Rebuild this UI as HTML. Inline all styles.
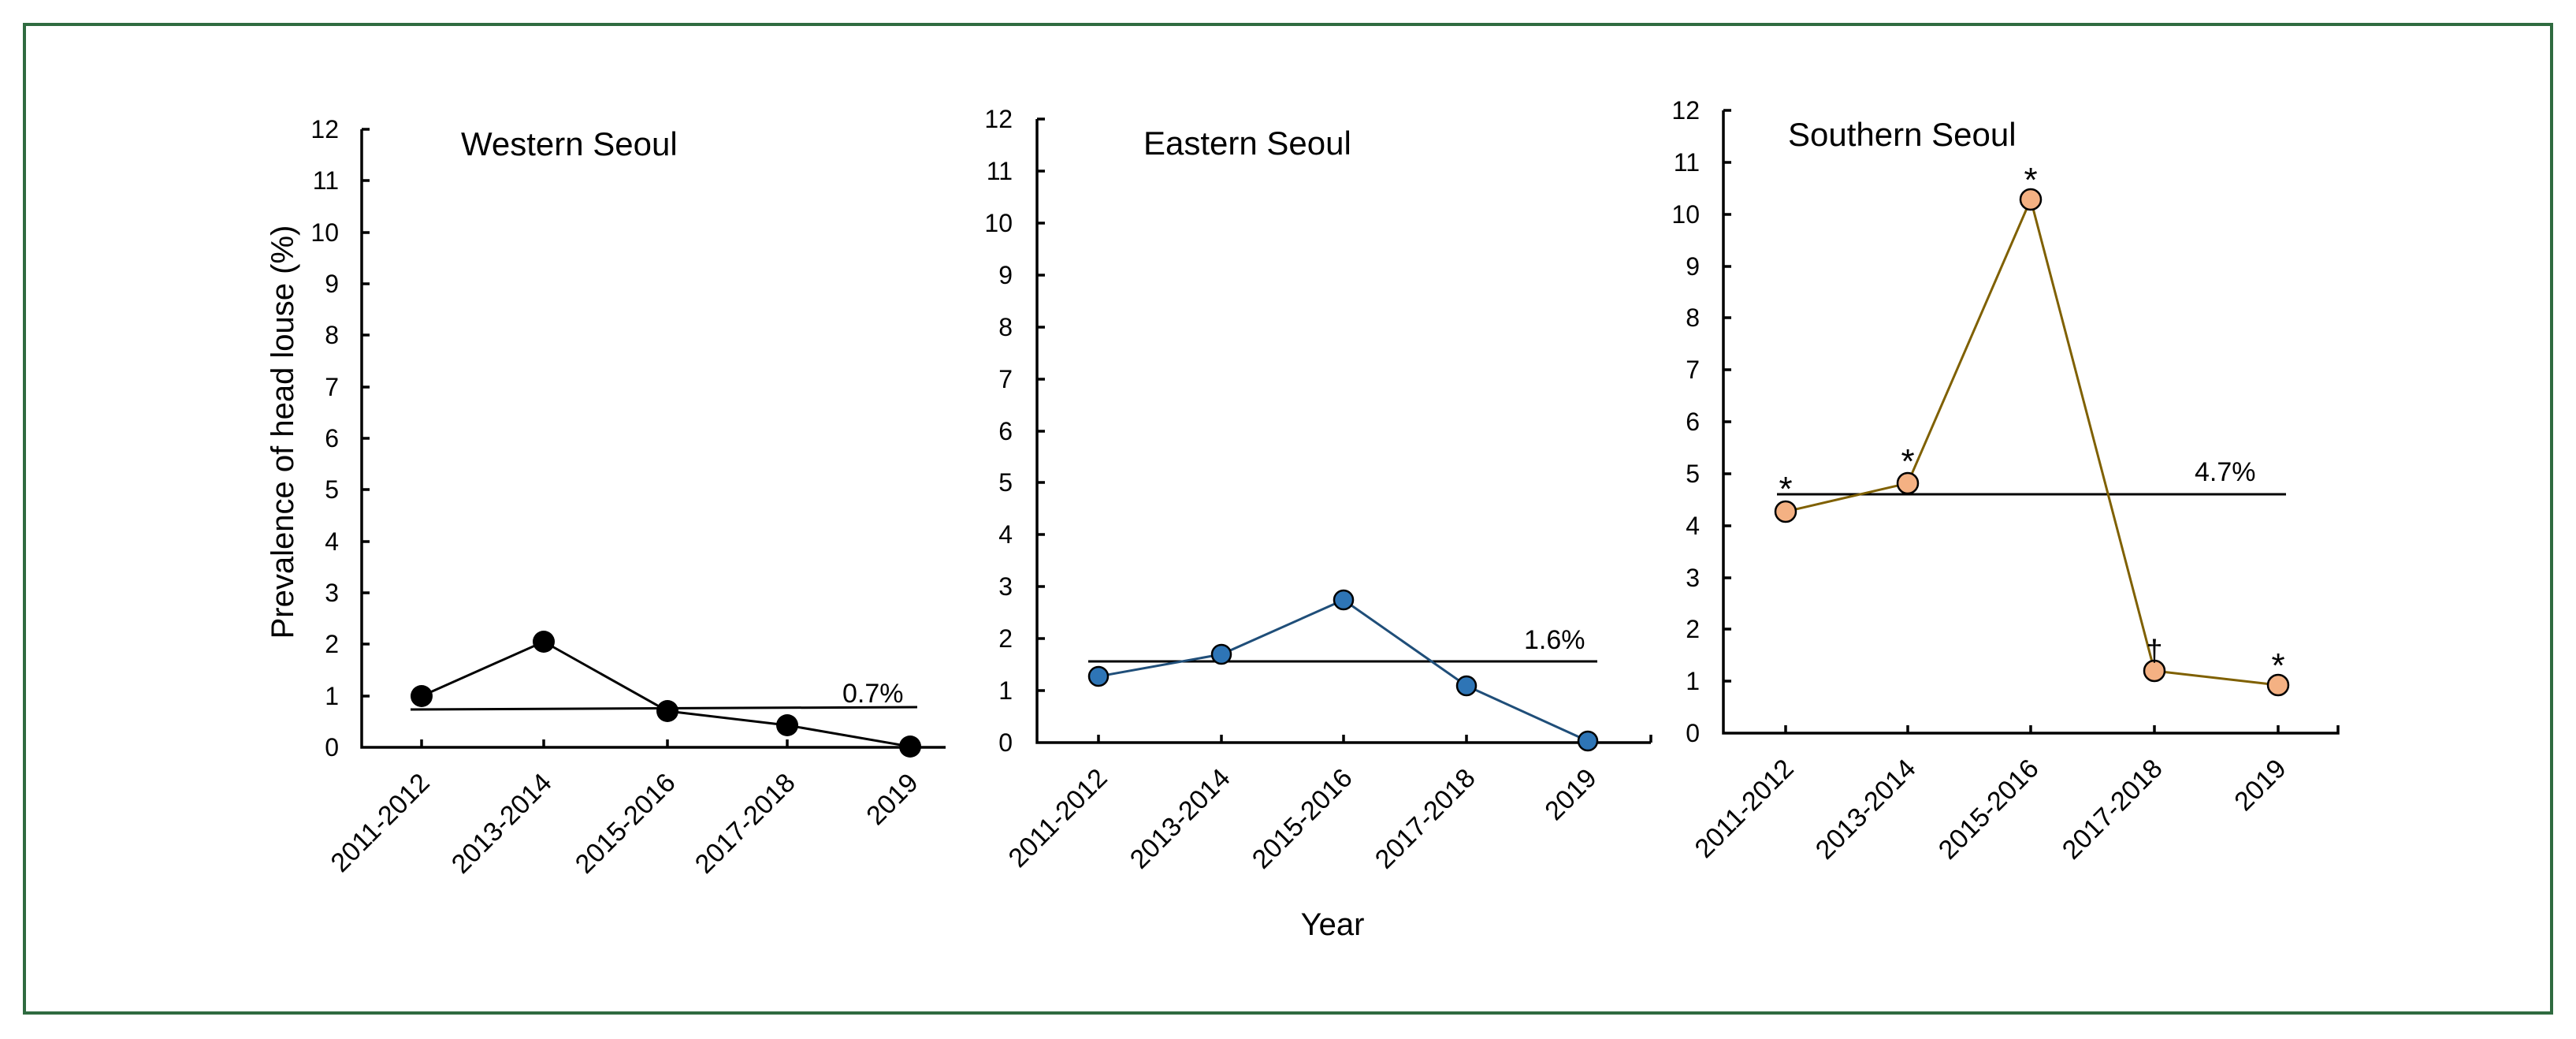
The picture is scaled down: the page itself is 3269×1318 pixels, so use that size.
<!DOCTYPE html>
<html><head><meta charset="utf-8"><style>
html,body{margin:0;padding:0;background:#fff;}
svg{display:block;font-family:"Liberation Sans",Arial,sans-serif;}
</style></head><body>
<svg width="3269" height="1318" viewBox="0 0 3269 1318" xmlns="http://www.w3.org/2000/svg">
<rect x="0" y="0" width="3269" height="1318" fill="#fff"/>
<rect x="31" y="31" width="3207" height="1254" fill="none" stroke="#2f6b40" stroke-width="4"/>

<!-- WESTERN -->
<g stroke="#000" stroke-width="3.5" fill="none">
<path d="M459 164 V948 H1200"/>
<path d="M459 164h10M459 229h10M459 295h10M459 360h10M459 425h10M459 491h10M459 556h10M459 621h10M459 687h10M459 752h10M459 817h10M459 883h10"/>
<path d="M535 948v-10M690 948v-10M847 948v-10M999 948v-10M1155 948v-10"/>
</g>
<g font-size="32" text-anchor="end" fill="#000">
<text x="430" y="959">0</text><text x="430" y="894">1</text><text x="430" y="828">2</text><text x="430" y="763">3</text><text x="430" y="698">4</text><text x="430" y="632">5</text><text x="430" y="567">6</text><text x="430" y="502">7</text><text x="430" y="436">8</text><text x="430" y="371">9</text><text x="430" y="306">10</text><text x="430" y="240">11</text><text x="430" y="175">12</text>
</g>
<text x="585" y="197" font-size="42">Western Seoul</text>
<text transform="translate(372,548) rotate(-90)" font-size="40" text-anchor="middle">Prevalence of head louse (%)</text>
<line x1="521" y1="900" x2="1164" y2="897" stroke="#000" stroke-width="3"/>
<text x="1069" y="891" font-size="34">0.7%</text>
<polyline points="535,883 690,814 847,902 999,920 1155,947" fill="none" stroke="#000" stroke-width="3"/>
<g fill="#000"><circle cx="535" cy="883" r="14"/><circle cx="690" cy="814" r="14"/><circle cx="847" cy="902" r="14"/><circle cx="999" cy="920" r="14"/><circle cx="1155" cy="947" r="14"/></g>
<g font-size="34" text-anchor="end">
<text transform="translate(547,995) rotate(-45)">2011-2012</text>
<text transform="translate(702,995) rotate(-45)">2013-2014</text>
<text transform="translate(859,995) rotate(-45)">2015-2016</text>
<text transform="translate(1011,995) rotate(-45)">2017-2018</text>
<text transform="translate(1167,995) rotate(-45)">2019</text>
</g>

<!-- EASTERN -->
<g stroke="#000" stroke-width="3.5" fill="none">
<path d="M1316 151 V942 H2095"/>
<path d="M1316 151h10M1316 217h10M1316 283h10M1316 349h10M1316 415h10M1316 481h10M1316 547h10M1316 612h10M1316 678h10M1316 744h10M1316 810h10M1316 876h10"/>
<path d="M1394 942v-10M1550 942v-10M1705 942v-10M1861 942v-10M2015 942v-10M2095 942v-10"/>
</g>
<g font-size="32" text-anchor="end" fill="#000">
<text x="1285" y="953">0</text><text x="1285" y="887">1</text><text x="1285" y="821">2</text><text x="1285" y="755">3</text><text x="1285" y="689">4</text><text x="1285" y="623">5</text><text x="1285" y="558">6</text><text x="1285" y="492">7</text><text x="1285" y="426">8</text><text x="1285" y="360">9</text><text x="1285" y="294">10</text><text x="1285" y="228">11</text><text x="1285" y="162">12</text>
</g>
<text x="1451" y="196" font-size="42">Eastern Seoul</text>
<line x1="1381" y1="839" x2="2027" y2="839" stroke="#000" stroke-width="3"/>
<text x="1934" y="823" font-size="34">1.6%</text>
<polyline points="1394,858 1550,830 1705,761 1861,870 2015,940" fill="none" stroke="#1f4e79" stroke-width="3"/>
<g fill="#2e75b6" stroke="#000" stroke-width="2.5"><circle cx="1394" cy="858" r="12"/><circle cx="1550" cy="830" r="12"/><circle cx="1705" cy="761" r="12"/><circle cx="1861" cy="870" r="12"/><circle cx="2015" cy="940" r="12"/></g>
<g font-size="34" text-anchor="end">
<text transform="translate(1407,989) rotate(-45)">2011-2012</text>
<text transform="translate(1563,989) rotate(-45)">2013-2014</text>
<text transform="translate(1718,989) rotate(-45)">2015-2016</text>
<text transform="translate(1874,989) rotate(-45)">2017-2018</text>
<text transform="translate(2028,989) rotate(-45)">2019</text>
</g>
<text x="1691" y="1186" font-size="40" text-anchor="middle">Year</text>

<!-- SOUTHERN -->
<g stroke="#000" stroke-width="3.5" fill="none">
<path d="M2187 140 V930 H2967 v-10"/>
<path d="M2187 140h10M2187 206h10M2187 272h10M2187 338h10M2187 403h10M2187 469h10M2187 535h10M2187 601h10M2187 667h10M2187 733h10M2187 798h10M2187 864h10"/>
<path d="M2266 930v-10M2421 930v-10M2577 930v-10M2734 930v-10M2891 930v-10"/>
</g>
<g font-size="32" text-anchor="end" fill="#000">
<text x="2157" y="941">0</text><text x="2157" y="875">1</text><text x="2157" y="809">2</text><text x="2157" y="744">3</text><text x="2157" y="678">4</text><text x="2157" y="612">5</text><text x="2157" y="546">6</text><text x="2157" y="480">7</text><text x="2157" y="414">8</text><text x="2157" y="349">9</text><text x="2157" y="283">10</text><text x="2157" y="217">11</text><text x="2157" y="151">12</text>
</g>
<text x="2269" y="185" font-size="42">Southern Seoul</text>
<line x1="2255" y1="627" x2="2901" y2="627" stroke="#000" stroke-width="3"/>
<text x="2785" y="610" font-size="34">4.7%</text>
<polyline points="2266,649 2421,613 2577,253 2734,851 2891,869" fill="none" stroke="#7f6000" stroke-width="3"/>
<g fill="#f4b183" stroke="#000" stroke-width="2.5"><circle cx="2266" cy="649" r="13"/><circle cx="2421" cy="613" r="13"/><circle cx="2577" cy="253" r="13"/><circle cx="2734" cy="851" r="13"/><circle cx="2891" cy="869" r="13"/></g>
<g font-size="44" text-anchor="middle">
<text x="2266" y="635">*</text><text x="2421" y="600">*</text><text x="2577" y="243">*</text><text x="2734" y="838" font-size="38">†</text><text x="2891" y="859">*</text>
</g>
<g font-size="34" text-anchor="end">
<text transform="translate(2278,977) rotate(-45)">2011-2012</text>
<text transform="translate(2433,977) rotate(-45)">2013-2014</text>
<text transform="translate(2589,977) rotate(-45)">2015-2016</text>
<text transform="translate(2746,977) rotate(-45)">2017-2018</text>
<text transform="translate(2903,977) rotate(-45)">2019</text>
</g>
</svg>
</body></html>
